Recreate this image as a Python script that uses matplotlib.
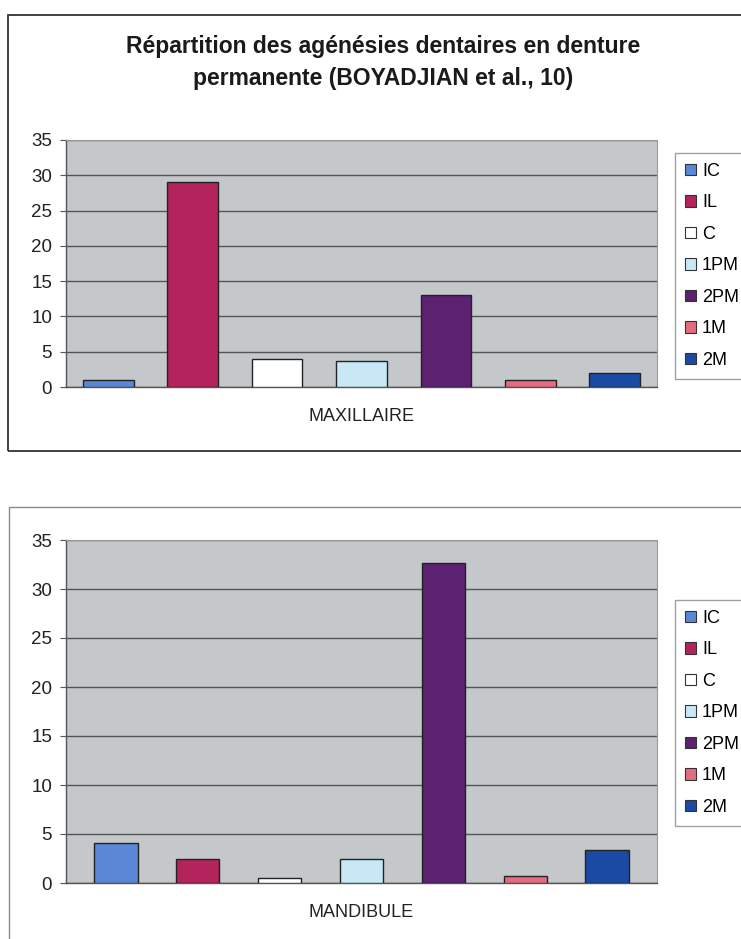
import numpy as np
import matplotlib
matplotlib.use("Agg")
import matplotlib.pyplot as plt
from matplotlib.patches import Rectangle, Patch

plt.rcParams["font.family"] = ["Liberation Sans", "DejaVu Sans"]

# teeth categories (one bar each) and percentages per arch
teeth = ["IC", "IL", "C", "1PM", "2PM", "1M", "2M"]
maxillaire = [1.0, 29.0, 4.0, 3.7, 13.0, 1.0, 2.0]
mandibule = [4.1, 2.4, 0.5, 2.5, 32.7, 0.7, 3.4]
y_ticks = [0, 5, 10, 15, 20, 25, 30, 35]

colors = ["#5b88d6", "#b3235c", "#ffffff", "#c8e8f6", "#5c2170", "#e46c80", "#1b4aa5"]
bg = "#c4c8cb"

W, H = 741, 939
fig = plt.figure(figsize=(W / 100, H / 100), dpi=100)
fig.patch.set_facecolor("white")


def px(x0, y0, x1, y1):
    # pixel box (top-left origin) -> figure fraction rect
    return [x0 / W, 1 - y1 / H, (x1 - x0) / W, (y1 - y0) / H]


# chart frames
fig.patches.append(Rectangle((8 / W, 1 - 451 / H), 760 / W, 436 / H,
                             transform=fig.transFigure, fill=False,
                             ec="#333333", lw=1.3))
fig.patches.append(Rectangle((9 / W, -0.05), 760 / W, 1 - 507 / H + 0.05,
                             transform=fig.transFigure, fill=False,
                             ec="#8a8a8a", lw=1.0))

fig.text(383 / W, 1 - 47 / H, "Répartition des agénésies dentaires en denture",
         ha="center", va="center", fontsize=16.5, fontweight="bold", color="#1a1a1a")
fig.text(383 / W, 1 - 79 / H, "permanente (BOYADJIAN et al., 10)",
         ha="center", va="center", fontsize=16.5, fontweight="bold", color="#1a1a1a")


def draw(rect, values, xlabel, half_span, width, legend_top):
    ax = fig.add_axes(rect)
    ax.set_facecolor(bg)
    x = np.arange(len(teeth))
    ax.bar(x, values, width=width, color=colors, edgecolor="#222222",
           linewidth=1.0, zorder=3)
    ax.set_xlim(-half_span, len(teeth) - 1 + half_span)
    ax.set_ylim(0, 35)
    ax.set_yticks(y_ticks)
    ax.yaxis.grid(True, color="#555555", linewidth=1.0, zorder=1)
    ax.set_xticks([])
    for s in ["top", "right"]:
        ax.spines[s].set_color("#9a9a9a")
        ax.spines[s].set_linewidth(0.8)
    for s in ["left", "bottom"]:
        ax.spines[s].set_color("#555555")
        ax.spines[s].set_linewidth(1.0)
    ax.tick_params(axis="y", length=4, width=0.8, color="#555555",
                   labelsize=13.5, labelcolor="#222222", pad=6)
    ax.set_xlabel(xlabel, fontsize=13, color="#222222", labelpad=15)

    handles = [Patch(facecolor=c, edgecolor="#333333", linewidth=0.8) for c in colors]
    fig.legend(handles, teeth, loc="upper left",
               bbox_to_anchor=(675 / W, 1 - legend_top / H),
               fontsize=13, frameon=True, fancybox=False, edgecolor="#888888",
               handlelength=0.6, handleheight=0.6, handletextpad=0.35,
               labelspacing=0.8, borderpad=0.55, borderaxespad=0)
    return ax


draw(px(66, 140, 657, 387), maxillaire, "MAXILLAIRE", 0.5, 0.6, 153)
draw(px(66, 540, 657, 883), mandibule, "MANDIBULE", 0.61, 0.53, 600)

fig.savefig("out.png", dpi=100)
